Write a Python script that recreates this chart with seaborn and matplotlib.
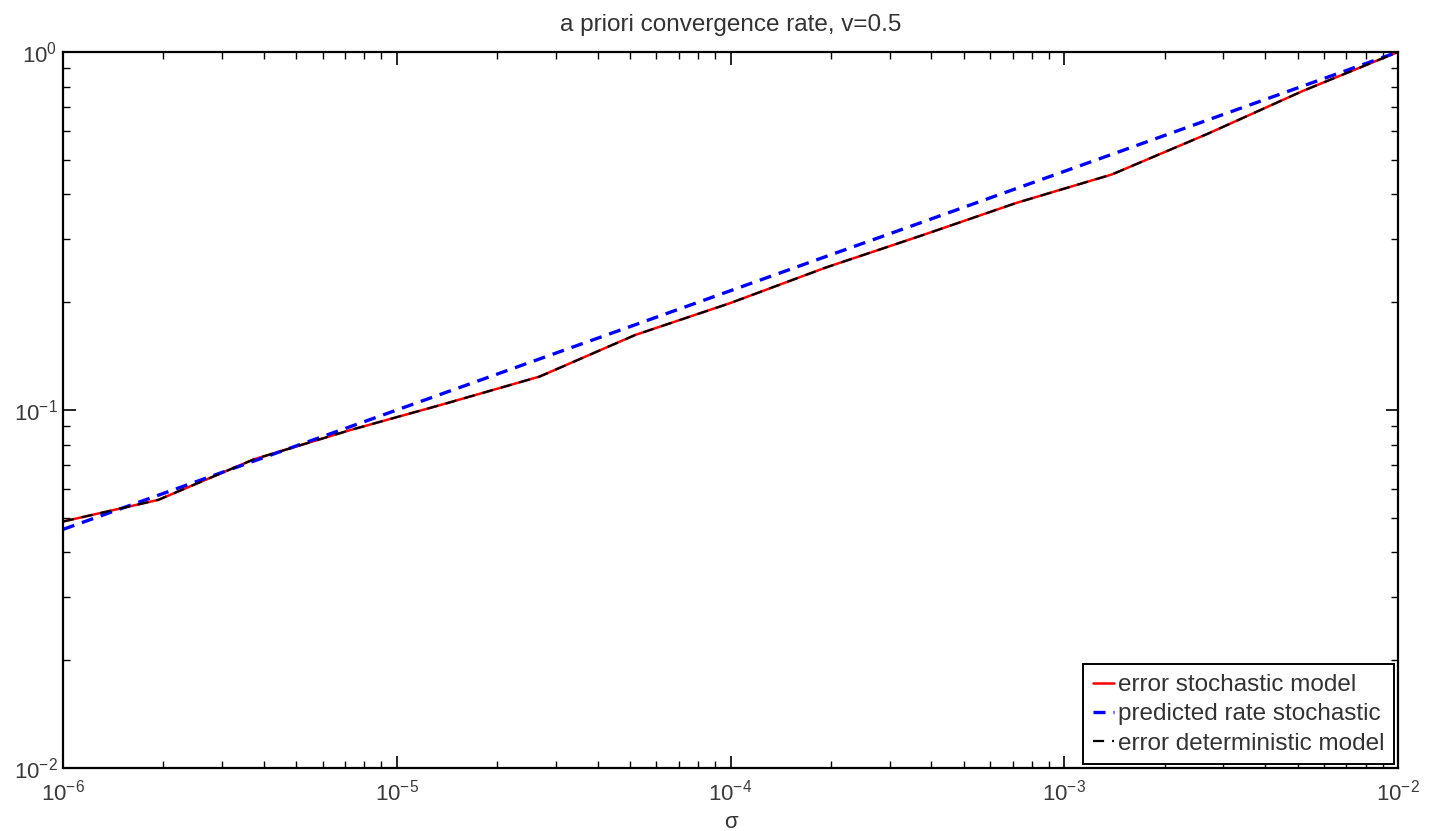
import numpy as np
import pandas as pd
import matplotlib
matplotlib.use("Agg")
import matplotlib.pyplot as plt
import seaborn as sns
from matplotlib.ticker import LogLocator, LogFormatterSciNotation, NullFormatter

# ---- data ----
sigma = [1.0e-6, 1.93e-6, 3.73e-6, 7.20e-6, 1.39e-5, 2.68e-5, 5.18e-5, 1.0e-4,
         1.93e-4, 3.73e-4, 7.20e-4, 1.39e-3, 2.68e-3, 5.18e-3, 1.0e-2]
err_stochastic = [0.0488, 0.0561, 0.0728, 0.0877, 0.104, 0.124, 0.162, 0.199,
                  0.250, 0.307, 0.379, 0.455, 0.590, 0.778, 1.0]
pred_rate = [0.0464, 0.0578, 0.0720, 0.0896, 0.1116, 0.1389, 0.1730, 0.2154,
             0.2683, 0.3340, 0.4159, 0.5179, 0.6449, 0.8030, 1.0]
err_deterministic = [0.0488, 0.0561, 0.0728, 0.0877, 0.104, 0.124, 0.162, 0.199,
                     0.250, 0.307, 0.379, 0.455, 0.590, 0.778, 1.0]
labels = ["error stochastic model", "predicted rate stochastic", "error deterministic model"]
title = "a priori convergence rate, v=0.5"
xlabel = "σ"

sns.set_style("ticks")
plt.rcParams['font.family'] = ['Liberation Sans', 'DejaVu Sans']
plt.rcParams['mathtext.fontset'] = 'custom'
plt.rcParams['mathtext.rm'] = 'Liberation Sans'
plt.rcParams['mathtext.it'] = 'Liberation Sans:italic'
plt.rcParams['mathtext.bf'] = 'Liberation Sans:bold'

fig = plt.figure(figsize=(14.3, 8.31), dpi=100)
ax = fig.add_axes([63/1430, 1 - 768/831, (1398-63)/1430, (768-52)/831])

df = pd.DataFrame({"sigma": sigma, "e1": err_stochastic, "e2": pred_rate, "e3": err_deterministic})

sns.lineplot(data=df, x="sigma", y="e1", ax=ax, color="#ff0000", linewidth=1.8,
             label=labels[0], sort=False)
sns.lineplot(data=df, x="sigma", y="e2", ax=ax, color="#0000ff", linewidth=2.4,
             label=labels[1], sort=False)
sns.lineplot(data=df, x="sigma", y="e3", ax=ax, color="#000000", linewidth=1.6,
             label=labels[2], sort=False)
lines = ax.get_lines()
lines[1].set_dashes([3.6, 2.4])
lines[2].set_dashes([5.0, 3.6])

ax.set_xscale("log")
ax.set_yscale("log")
ax.set_xlim(1e-6, 1e-2)
ax.set_ylim(1e-2, 1e0)

ax.xaxis.set_major_locator(LogLocator(base=10, numticks=10))
ax.yaxis.set_major_locator(LogLocator(base=10, numticks=10))
ax.xaxis.set_minor_locator(LogLocator(base=10, subs=np.arange(2, 10), numticks=100))
ax.yaxis.set_minor_locator(LogLocator(base=10, subs=np.arange(2, 10), numticks=100))
ax.xaxis.set_major_formatter(LogFormatterSciNotation())
ax.yaxis.set_major_formatter(LogFormatterSciNotation())
ax.xaxis.set_minor_formatter(NullFormatter())
ax.yaxis.set_minor_formatter(NullFormatter())

ax.tick_params(which="both", direction="in", top=True, right=True, colors="#000000",
               labelcolor="#3a3a3a")
ax.tick_params(which="major", length=9, width=1.2, labelsize=16)
ax.tick_params(axis="x", which="major", pad=8)
ax.tick_params(axis="y", which="major", pad=4)
ax.tick_params(which="minor", length=5, width=1.0)
for s in ax.spines.values():
    s.set_visible(True)
    s.set_linewidth(1.6)
    s.set_color("#000000")

ax.set_title(title, fontsize=17.5, color="#333333", pad=15)
ax.set_xlabel(xlabel, fontsize=16, color="#333333", labelpad=5)
ax.set_ylabel("")

leg = ax.legend(loc="lower right", fontsize=17.5, frameon=True, fancybox=False,
                handlelength=0.9, handletextpad=0.15, labelspacing=0.3,
                borderpad=0.4, borderaxespad=0.15)
leg.get_frame().set_edgecolor("#000000")
leg.get_frame().set_linewidth(1.4)
leg.get_frame().set_alpha(1)
for t in leg.get_texts():
    t.set_color("#333333")

fig.savefig("out.png", dpi=100, facecolor="white")
